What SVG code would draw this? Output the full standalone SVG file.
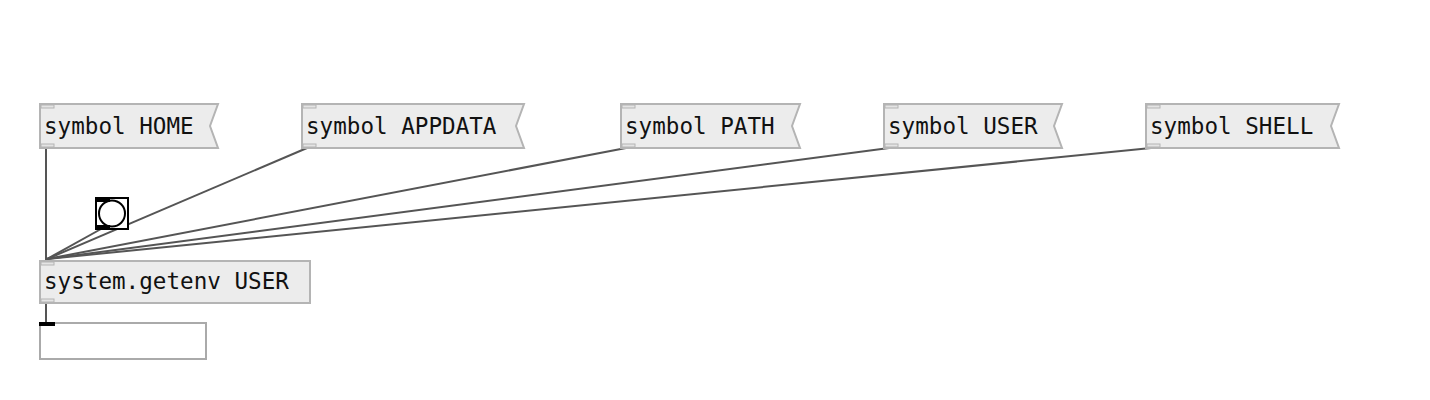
<svg xmlns="http://www.w3.org/2000/svg" width="1430" height="400" viewBox="0 0 1430 400">
<style>
.box{fill:#ececec;stroke:#b4b4b4;stroke-width:2}
.io{fill:#e4e4e4;stroke:#b4b4b4;stroke-width:1}
.t{font-family:"DejaVu Sans Mono",monospace;font-size:22.6px;fill:#111}
.c{stroke:#555;stroke-width:2;fill:none}
</style>
<rect width="1430" height="400" fill="#fff"/>
<g id="connectors">
<line class="c" x1="46" y1="148" x2="46" y2="260"/>
<line class="c" x1="307" y1="148" x2="47" y2="259"/>
<line class="c" x1="626" y1="148" x2="47" y2="259"/>
<line class="c" x1="889" y1="148" x2="47" y2="259"/>
<line class="c" x1="1151" y1="148" x2="47" y2="259"/>
<line class="c" x1="101" y1="229" x2="47" y2="259"/>
<line class="c" x1="46" y1="304" x2="46" y2="323"/>
</g>
<g id="msg-home">
<path class="box" d="M40 104H218L210 126L218 148H40Z"/>
<rect class="io" x="41" y="105" width="13" height="3"/>
<rect class="io" x="41" y="144" width="13" height="3"/>
<text class="t" x="44" y="134">symbol HOME</text>
</g>
<g id="msg-appdata">
<path class="box" d="M302 104H524L516 126L524 148H302Z"/>
<rect class="io" x="303" y="105" width="13" height="3"/>
<rect class="io" x="303" y="144" width="13" height="3"/>
<text class="t" x="306" y="134">symbol APPDATA</text>
</g>
<g id="msg-path">
<path class="box" d="M621 104H800L792 126L800 148H621Z"/>
<rect class="io" x="622" y="105" width="13" height="3"/>
<rect class="io" x="622" y="144" width="13" height="3"/>
<text class="t" x="625" y="134">symbol PATH</text>
</g>
<g id="msg-user">
<path class="box" d="M884 104H1062L1054 126L1062 148H884Z"/>
<rect class="io" x="885" y="105" width="13" height="3"/>
<rect class="io" x="885" y="144" width="13" height="3"/>
<text class="t" x="888" y="134">symbol USER</text>
</g>
<g id="msg-shell">
<path class="box" d="M1146 104H1339L1331 126L1339 148H1146Z"/>
<rect class="io" x="1147" y="105" width="13" height="3"/>
<rect class="io" x="1147" y="144" width="13" height="3"/>
<text class="t" x="1150" y="134">symbol SHELL</text>
</g>
<g id="bang">
<rect x="96" y="198" width="32" height="31" fill="#fff" stroke="#000" stroke-width="2"/>
<circle cx="112" cy="213.5" r="13" fill="#fff" stroke="#000" stroke-width="2"/>
<rect x="96" y="198" width="14" height="4" fill="#000"/>
<rect x="96" y="225" width="14" height="4" fill="#000"/>
</g>
<g id="getenv">
<rect class="box" x="40" y="261" width="270" height="42"/>
<rect class="io" x="41" y="262" width="13" height="3"/>
<rect class="io" x="41" y="299" width="13" height="3"/>
<text class="t" x="44" y="289">system.getenv USER</text>
</g>
<g id="symbol-atom">
<rect x="40" y="323" width="166" height="36" fill="#fff" stroke="#aaa" stroke-width="2"/>
<rect x="39" y="322" width="16" height="4" fill="#000"/>
</g>
</svg>
